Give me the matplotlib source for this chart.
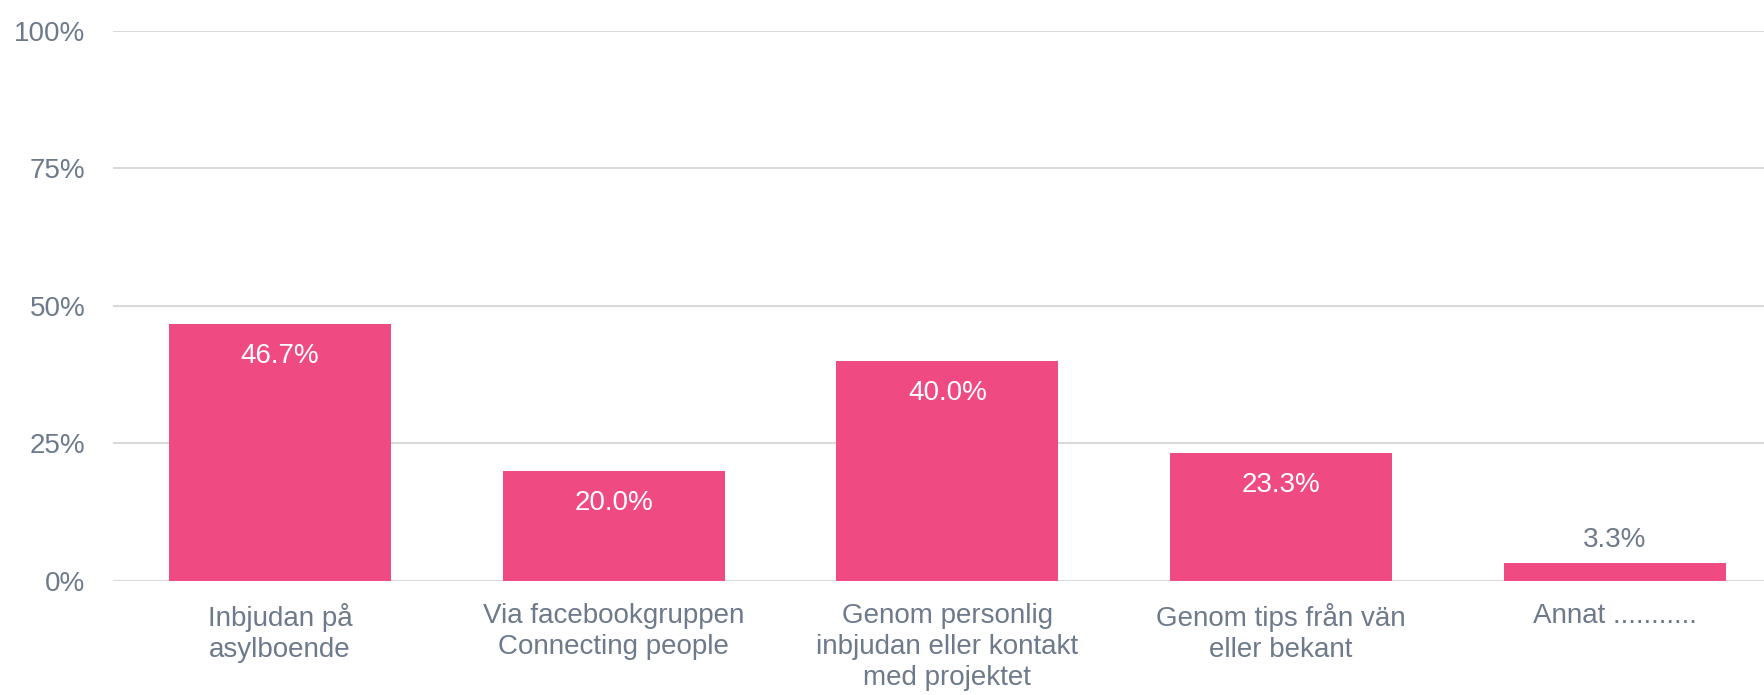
import numpy as np
import matplotlib.pyplot as plt
from matplotlib.ticker import FuncFormatter

categories = [
    'Inbjudan på\nasylboende',
    'Via facebookgruppen\nConnecting people',
    'Genom personlig\ninbjudan eller kontakt\nmed projektet',
    'Genom tips från vän\neller bekant',
    'Annat ...........',
]
values = [46.7, 20.0, 40.0, 23.3, 3.3]
yticks = [0, 25, 50, 75, 100]

bar_color = '#ef4a81'
text_color = '#6d7a8b'
grid_color = '#d9d9d9'
fs = 20

plt.rcParams['font.family'] = ['Liberation Sans', 'DejaVu Sans']

fig = plt.figure(figsize=(17.65, 6.95), dpi=100)
ax = fig.add_axes([0.064, 0.164, 0.936, 0.792])

x = np.arange(len(categories))
bars = ax.bar(x, values, width=0.665, color=bar_color, zorder=2)

# value labels: inside the bar in white, above it in grey if the bar is short
for rect, v in zip(bars, values):
    cx = rect.get_x() + rect.get_width() / 2
    if v > 10:
        ax.annotate(f'{v:.1f}%', (cx, v), xytext=(0, -32), textcoords='offset pixels',
                    ha='center', va='center', color='white', fontsize=fs)
    else:
        ax.annotate(f'{v:.1f}%', (cx, v), xytext=(0, 23), textcoords='offset pixels',
                    ha='center', va='center', color=text_color, fontsize=fs)

ax.set_ylim(0, 100)
ax.set_xlim(-0.5, 4.45)
ax.set_yticks(yticks)
ax.yaxis.set_major_formatter(FuncFormatter(lambda v, p: f'{v:.0f}%'))
ax.set_xticks(x)
ax.set_xticklabels(categories, linespacing=1.25)
ax.tick_params(axis='y', length=0, pad=20, labelsize=fs, labelcolor=text_color)
ax.tick_params(axis='x', length=0, pad=16, labelsize=fs, labelcolor=text_color)

ax.grid(axis='y', color=grid_color, linewidth=1.5, zorder=0)
for s in ax.spines.values():
    s.set_visible(False)

plt.savefig('out.png', dpi=100)
plt.close()
